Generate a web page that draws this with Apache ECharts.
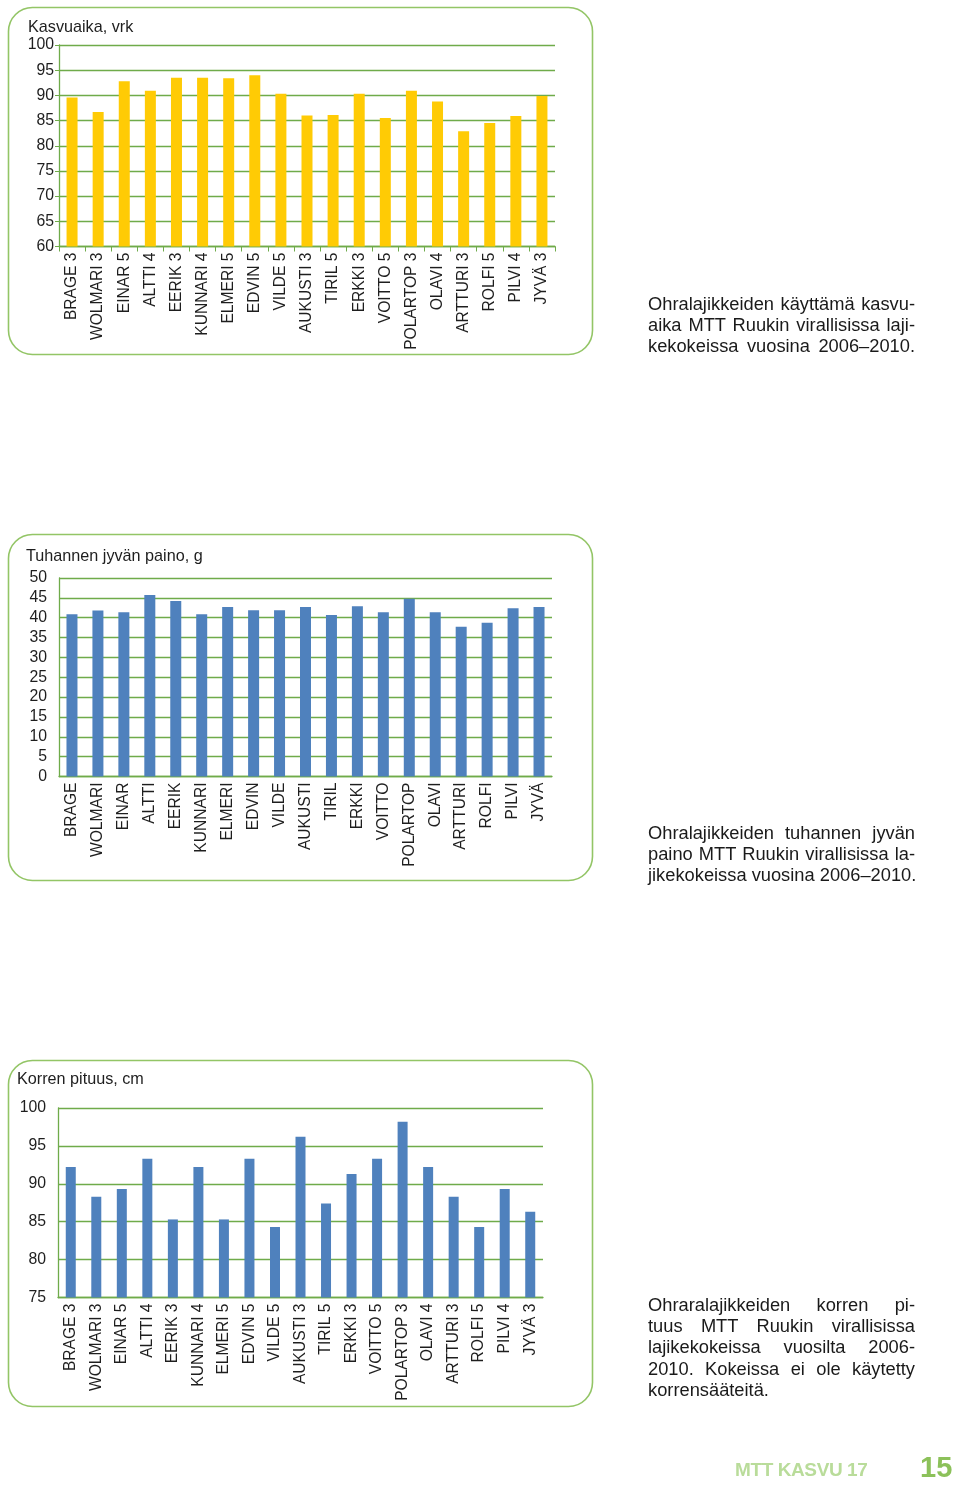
<!DOCTYPE html>
<html>
<head>
<meta charset="utf-8">
<script src="https://cdn.jsdelivr.net/npm/echarts@6/dist/echarts.min.js"></script>
<style>
  html, body { margin: 0; padding: 0; background: #ffffff; }
  #wrap { position: relative; width: 960px; height: 1485px; }
  #chart { position: absolute; left: 0; top: 0; width: 960px; height: 1485px; }
  .cap { position: absolute; left: 648px; width: 267px; font-family: "Liberation Sans", Arial, sans-serif;
         font-size: 18.3px; line-height: 21.2px; color: #1a1a1a; }
  .cap div { text-align: justify; text-align-last: justify; white-space: nowrap; }
  .cap div.last { text-align-last: left; }
  .foot1 { position: absolute; left: 735px; top: 1459px; font-family: "Liberation Sans", Arial, sans-serif;
           font-weight: bold; font-size: 19px; color: #b9dc9a; letter-spacing: -0.4px; }
  .foot2 { position: absolute; left: 920px; top: 1451px; font-family: "Liberation Sans", Arial, sans-serif;
           font-weight: bold; font-size: 29px; color: #8cc15a; }
</style>
</head>
<body>
<div id="wrap">
  <div id="chart"></div>
  <div class="cap" style="top:293px;">
    <div>Ohralajikkeiden käyttämä kasvu-</div>
    <div>aika MTT Ruukin virallisissa laji-</div>
    <div>kekokeissa vuosina 2006–2010.</div>
  </div>
  <div class="cap" style="top:822px;">
    <div>Ohralajikkeiden tuhannen jyvän</div>
    <div>paino MTT Ruukin virallisissa la-</div>
    <div>jikekokeissa vuosina 2006–2010.</div>
  </div>
  <div class="cap" style="top:1294px;">
    <div>Ohraralajikkeiden korren pi-</div>
    <div>tuus MTT Ruukin virallisissa</div>
    <div>lajikekokeissa vuosilta 2006-</div>
    <div>2010. Kokeissa ei ole käytetty</div>
    <div class="last">korrensääteitä.</div>
  </div>
  <div class="foot1">MTT KASVU 17</div>
  <div class="foot2">15</div>
</div>
<script>
// ---- data ----
const varieties = ["BRAGE","WOLMARI","EINAR","ALTTI","EERIK","KUNNARI","ELMERI","EDVIN","VILDE","AUKUSTI","TIRIL","ERKKI","VOITTO","POLARTOP","OLAVI","ARTTURI","ROLFI","PILVI","JYVÄ"];
const labelsWithYears = ["BRAGE 3","WOLMARI 3","EINAR 5","ALTTI 4","EERIK 3","KUNNARI 4","ELMERI 5","EDVIN 5","VILDE 5","AUKUSTI 3","TIRIL 5","ERKKI 3","VOITTO 5","POLARTOP 3","OLAVI 4","ARTTURI 3","ROLFI 5","PILVI 4","JYVÄ 3"];

const growingDays = [89.6,86.7,92.8,90.9,93.5,93.5,93.4,94.0,90.3,86.0,86.1,90.3,85.5,90.9,88.8,82.9,84.5,85.9,89.9];
const kernelWeight = [40.9,41.8,41.4,45.7,44.2,40.9,42.7,41.9,41.9,42.7,40.7,42.9,41.4,44.8,41.4,37.7,38.7,42.4,42.7];
const strawLength = [92.2,88.3,89.3,93.3,85.3,92.2,85.3,93.3,84.3,96.2,87.4,91.3,93.3,98.2,92.2,88.3,84.3,89.3,86.3];

const titles = ["Kasvuaika, vrk", "Tuhannen jyvän paino, g", "Korren pituus, cm"];

// ---- styles ----
const FONT = '"Liberation Sans", Arial, sans-serif';
const GREEN = '#6fab4a';
const PANEL = '#93c566';
const TXT = '#1e1e1e';
const YELLOW = '#ffcb05';
const BLUE = '#4f81bd';

const chart = echarts.init(document.getElementById('chart'), null, {renderer: 'canvas'});

function xAxis(idx, data, ticks) {
  return {
    type: 'category', gridIndex: idx, data: data,
    axisLine: {show: true, lineStyle: {color: GREEN, width: 1.3}},
    axisTick: {show: ticks, alignWithLabel: false, length: 5, lineStyle: {color: GREEN}},
    axisLabel: {rotate: 90, margin: 6, fontFamily: FONT, fontSize: 15.6, color: TXT, interval: 0},
    splitLine: {show: false}
  };
}
function yAxis(idx, min, max, interval, margin, ticks) {
  return {
    type: 'value', gridIndex: idx, min: min, max: max, interval: interval,
    axisLine: {show: true, lineStyle: {color: GREEN, width: 1.3}},
    axisTick: {show: ticks, length: 4, lineStyle: {color: GREEN}},
    axisLabel: {margin: margin, fontFamily: FONT, fontSize: 15.8, color: TXT},
    splitLine: {show: true, lineStyle: {color: GREEN, width: 1.3}}
  };
}

const panels = [
  {x: 8.5, y: 7.5, w: 584, h: 347},
  {x: 8.5, y: 534.5, w: 584, h: 346},
  {x: 8.5, y: 1060.5, w: 584, h: 346}
];
const titlePos = [[28, 28], [26, 557], [17, 1080]];

const graphic = [];
panels.forEach(p => graphic.push({
  type: 'rect', shape: {x: p.x, y: p.y, width: p.w, height: p.h, r: 24},
  style: {fill: 'none', stroke: PANEL, lineWidth: 1.6}, z: 0
}));
titles.forEach((t, i) => graphic.push({
  type: 'text', x: titlePos[i][0], y: titlePos[i][1],
  style: {text: t, font: '16.2px ' + FONT, fill: TXT, textVerticalAlign: 'middle'}, z: 5
}));

const option = {
  animation: false,
  backgroundColor: '#ffffff',
  grid: [
    {left: 59, top: 45, width: 496, height: 201.5, containLabel: false},
    {left: 59, top: 578, width: 493, height: 198.5, containLabel: false},
    {left: 58, top: 1108, width: 485, height: 189.5, containLabel: false}
  ],
  xAxis: [
    xAxis(0, labelsWithYears, true),
    xAxis(1, varieties, false),
    xAxis(2, labelsWithYears, false)
  ],
  yAxis: [
    yAxis(0, 60, 100, 5, 5, true),
    yAxis(1, 0, 50, 5, 12, false),
    yAxis(2, 75, 100, 5, 12, false)
  ],
  series: [
    {type: 'bar', xAxisIndex: 0, yAxisIndex: 0, data: growingDays, barWidth: 11,
     itemStyle: {color: YELLOW}, z: 3},
    {type: 'bar', xAxisIndex: 1, yAxisIndex: 1, data: kernelWeight, barWidth: 11,
     itemStyle: {color: BLUE}, z: 3},
    {type: 'bar', xAxisIndex: 2, yAxisIndex: 2, data: strawLength, barWidth: 10,
     itemStyle: {color: BLUE}, z: 3}
  ],
  graphic: graphic
};
chart.setOption(option);
</script>
</body>
</html>
